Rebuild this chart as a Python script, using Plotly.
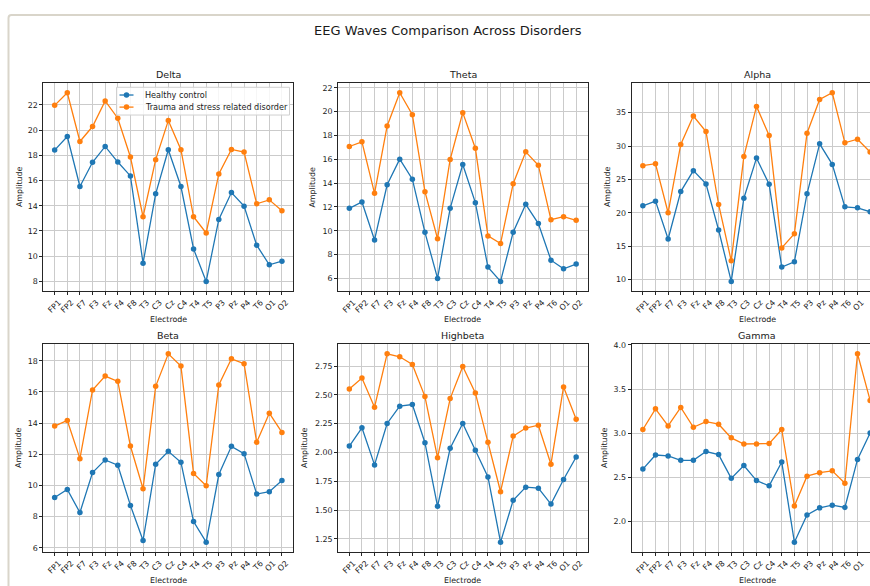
import plotly.graph_objects as go

electrodes = ["FP1", "FP2", "F7", "F3", "Fz", "F4", "F8", "T3", "C3", "Cz",
              "C4", "T4", "T5", "P3", "Pz", "P4", "T6", "O1", "O2"]

delta_hc = [18.42, 19.5, 15.53, 17.45, 18.71, 17.47, 16.37, 9.45, 14.95, 18.45, 15.53, 10.58, 8.0, 12.92, 15.05, 13.97, 10.87, 9.32, 9.6]
delta_tr = [21.97, 22.97, 19.1, 20.29, 22.32, 20.95, 17.87, 13.13, 17.66, 20.76, 18.45, 13.13, 11.84, 16.53, 18.47, 18.26, 14.16, 14.47, 13.6]

theta_hc = [11.88, 12.41, 9.23, 13.86, 16.01, 14.33, 9.87, 6.0, 11.88, 15.56, 12.36, 6.95, 5.75, 9.87, 12.22, 10.6, 7.53, 6.81, 7.2]
theta_tr = [17.07, 17.46, 13.14, 18.79, 21.58, 19.74, 13.28, 9.33, 15.98, 19.91, 16.93, 9.57, 8.93, 13.94, 16.62, 15.5, 10.93, 11.18, 10.88]

alpha_hc = [21.06, 21.76, 16.1, 23.19, 26.32, 24.34, 17.44, 9.75, 22.2, 28.2, 24.29, 11.89, 12.68, 22.85, 30.34, 27.26, 20.91, 20.76, 20.17]
alpha_tr = [27.06, 27.36, 20.02, 30.24, 34.5, 32.17, 21.26, 12.83, 28.45, 35.94, 31.58, 14.76, 16.89, 31.92, 36.98, 37.98, 30.49, 31.03, 29.1]

beta_hc = [9.23, 9.74, 8.26, 10.83, 11.64, 11.3, 8.72, 6.47, 11.36, 12.19, 11.49, 7.68, 6.36, 10.7, 12.51, 12.04, 9.45, 9.6, 10.32]
beta_tr = [13.81, 14.17, 11.72, 16.13, 17.02, 16.68, 12.53, 9.79, 16.36, 18.45, 17.66, 10.77, 9.98, 16.45, 18.13, 17.81, 12.77, 14.64, 13.4]

highbeta_hc = [2.056, 2.214, 1.892, 2.252, 2.402, 2.416, 2.085, 1.532, 2.036, 2.252, 2.019, 1.788, 1.221, 1.584, 1.699, 1.690, 1.552, 1.765, 1.961]
highbeta_tr = [2.551, 2.646, 2.393, 2.857, 2.831, 2.764, 2.485, 1.955, 2.468, 2.747, 2.517, 2.088, 1.659, 2.142, 2.212, 2.237, 1.898, 2.569, 2.289]

gamma_hc = [2.59, 2.75, 2.74, 2.69, 2.69, 2.79, 2.755, 2.485, 2.63, 2.46, 2.40, 2.67, 1.76, 2.07, 2.15, 2.18, 2.155, 2.70, 3.0]
gamma_tr = [3.04, 3.275, 3.08, 3.29, 3.065, 3.13, 3.10, 2.945, 2.875, 2.875, 2.88, 3.04, 2.17, 2.51, 2.55, 2.57, 2.43, 3.90, 3.37]

wave_names = ["Delta", "Theta", "Alpha", "Beta", "Highbeta", "Gamma"]
series_hc = [delta_hc, theta_hc, alpha_hc, beta_hc, highbeta_hc, gamma_hc]
series_tr = [delta_tr, theta_tr, alpha_tr, beta_tr, highbeta_tr, gamma_tr]
y_dticks = [2, 2, 5, 2, 0.25, 0.5]
y_formats = [".0f", ".0f", ".0f", ".0f", ".2f", ".1f"]
legend_names = ["Healthy control", "Trauma and stress related disorder"]

W, H = 870, 586
FONT = "DejaVu Sans"
TXT = "#1a1a1a"
C0, C1 = "#1f77b4", "#ff7f0e"
COLORS = [C0, C1]


def fx(px):
    return px / W


def fy(py):
    return 1 - py / H


# pixel layout of the axes boxes (left, right, top, bottom)
col_lr = [(43.3, 293.3), (338.0, 587.5), (631.5, 870.0)]
col_center = [168.3, 462.8, 757.0]
ylab_x = [[19, 312.5, 607], [19, 305, 605]]
row_tb = [(80.0, 289.3), (343.3, 552.3)]

fig = go.Figure()
annotations = []
shapes = []

for i, name in enumerate(wave_names):
    r, c = divmod(i, 3)
    ax = "" if i == 0 else str(i + 1)
    xa, ya = "x" + ax, "y" + ax
    hc, tr = series_hc[i], series_tr[i]
    for vals, col, lname in ((hc, C0, legend_names[0]), (tr, C1, legend_names[1])):
        fig.add_trace(go.Scatter(
            x=list(range(len(electrodes))), y=vals, mode="lines+markers",
            name=lname, showlegend=False, legendgroup=lname,
            line=dict(color=col, width=1.3), marker=dict(color=col, size=5.5),
            xaxis=xa, yaxis=ya, hoverinfo="skip"))
    lo = min(min(hc), min(tr))
    hi = max(max(hc), max(tr))
    pad = 0.05 * (hi - lo)
    L, R = col_lr[c]
    T, B = row_tb[r]
    xr_end = 18.9 if c < 2 else -0.9 + 19.8 * (R - L) / 250.0
    common = dict(showline=True, linecolor="#262626", linewidth=0.9,
                  ticks="outside", ticklen=3, tickwidth=0.9, tickcolor="#262626",
                  showgrid=True, gridcolor="#cbcbcb", gridwidth=0.8, zeroline=False,
                  tickfont=dict(family=FONT, size=7.9, color=TXT))
    fig.layout["xaxis" + ax] = dict(
        domain=[fx(L), fx(R)], anchor=ya, range=[-0.9, xr_end],
        tickmode="array", tickvals=list(range(len(electrodes))), ticktext=electrodes,
        tickangle=-45, ticklabelshift=4, mirror=True, **common)
    fig.layout["yaxis" + ax] = dict(
        domain=[fy(B), fy(T)], anchor=xa, range=[lo - pad, hi + pad],
        dtick=y_dticks[i], tickformat=y_formats[i], mirror=(c < 2), **common)
    # subplot title
    annotations.append(dict(text=name, x=fx(col_center[c]), y=fy(T - 8.5),
                            xref="paper", yref="paper", showarrow=False,
                            xanchor="center", yanchor="middle",
                            font=dict(family=FONT, size=9.5, color=TXT)))
    # axis labels
    annotations.append(dict(text="Electrode", x=fx(col_center[c]), y=fy(B + 29),
                            xref="paper", yref="paper", showarrow=False,
                            xanchor="center", yanchor="middle",
                            font=dict(family=FONT, size=7.9, color=TXT)))
    annotations.append(dict(text="Amplitude", x=fx(ylab_x[r][c]), y=fy((T + B) / 2),
                            xref="paper", yref="paper", showarrow=False,
                            xanchor="center", yanchor="middle", textangle=-90,
                            font=dict(family=FONT, size=7.9, color=TXT)))

annotations.append(dict(text="EEG Waves Comparison Across Disorders", x=fx(448), y=fy(27),
                        xref="paper", yref="paper", showarrow=False,
                        xanchor="center", yanchor="middle",
                        font=dict(family=FONT, size=13, color=TXT)))

# compact legend (matplotlib style) in the Delta panel
lg_l, lg_r, lg_t, lg_b = 116.5, 289.5, 84.0, 112.0
shapes.append(dict(type="rect", xref="paper", yref="paper", layer="above",
                   x0=fx(lg_l), x1=fx(lg_r), y0=fy(lg_b), y1=fy(lg_t),
                   fillcolor="rgba(255,255,255,0.82)",
                   line=dict(color="#d0d0d0", width=1)))
for k, (lname, col) in enumerate(zip(legend_names, COLORS)):
    yy = 91.8 + 12.2 * k
    shapes.append(dict(type="line", xref="paper", yref="paper", layer="above",
                       x0=fx(119.5), x1=fx(133.5), y0=fy(yy), y1=fy(yy),
                       line=dict(color=col, width=1.3)))
    shapes.append(dict(type="circle", xref="paper", yref="paper", layer="above",
                       xsizemode="pixel", ysizemode="pixel",
                       xanchor=fx(126.5), yanchor=fy(yy),
                       x0=-2.75, x1=2.75, y0=-2.75, y1=2.75,
                       fillcolor=col, line=dict(color=col, width=0)))
    annotations.append(dict(text=lname, x=fx(142.5), y=fy(yy),
                            xref="paper", yref="paper", showarrow=False,
                            xanchor="left", yanchor="middle",
                            font=dict(family=FONT, size=8.1, color=TXT)))

# notebook-like frame around the output
bx, by, rad = 8.5, 11.0, 3.0
path = (f"M {fx(bx)},{fy(600)} L {fx(bx)},{fy(by + rad)} "
        f"Q {fx(bx)},{fy(by)} {fx(bx + rad)},{fy(by)} L {fx(900)},{fy(by)}")
shapes.append(dict(type="path", path=path, xref="paper", yref="paper",
                   line=dict(color="#d9d5ca", width=2)))

fig.update_layout(
    width=W, height=H, autosize=False,
    margin=dict(l=0, r=0, t=0, b=0),
    paper_bgcolor="white", plot_bgcolor="white",
    font=dict(family=FONT, color=TXT),
    annotations=annotations,
    shapes=shapes,
    showlegend=False,
)

fig.write_html("out.html", config={"displayModeBar": False},
               post_script="document.body.style.margin='0';"
                           "document.documentElement.style.overflow='hidden';"
                           "document.body.style.overflow='hidden';")
